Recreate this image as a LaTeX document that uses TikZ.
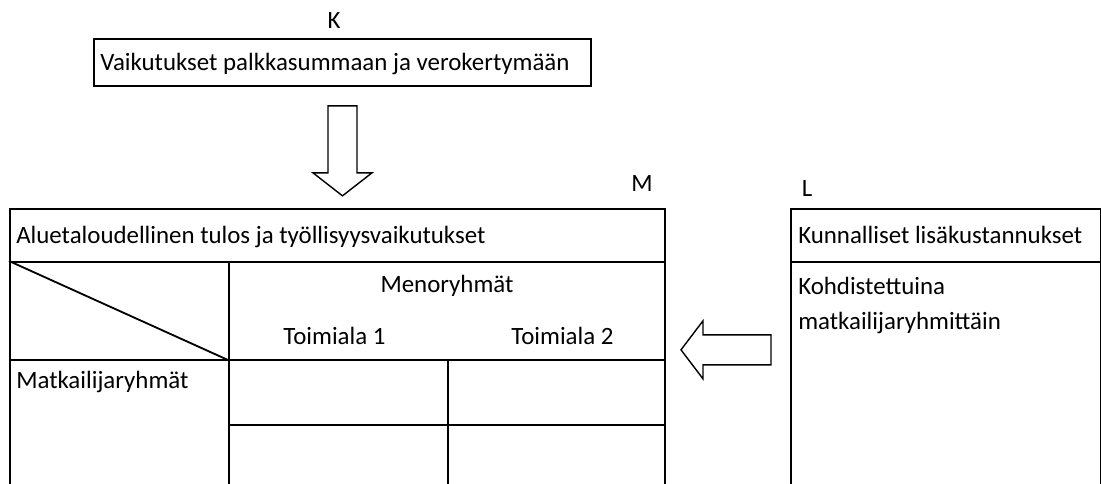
\documentclass[tikz,border=0pt]{standalone}
\usepackage{fontspec}
\setmainfont{Carlito}
\usetikzlibrary{calc}
\usetikzlibrary{positioning}

\begin{document}
\begin{tikzpicture}[x=0.025cm,y=-0.025cm,font=\fontsize{17.7}{21}\selectfont,
    cell/.style={rectangle,draw,line width=1.3pt,inner sep=0pt,anchor=north west},
    txt/.style={inner sep=0pt,anchor=base west},
    lbl/.style={inner sep=0pt,anchor=base},
    blockarrow/.style={draw,line width=1pt,line join=miter}]
      \useasboundingbox (0,0) rectangle (1101,484);
      \clip (0,0) rectangle (1101,484);
      \node[cell,minimum width=12.425cm,minimum height=1.175cm] (effects) at (93,38) {} ;
      \node[cell,minimum width=16.375cm,minimum height=1.325cm] (mainTitle) at (9,208) {} ;
      \node[cell,minimum width=5.475cm,minimum height=2.45cm] (corner) at (9,261) {} ;
      \node[cell,minimum width=10.9cm,minimum height=2.45cm] (header) at (228,261) {} ;
      \node[cell,minimum width=5.475cm,minimum height=3.525cm] (rowHead) at (9,359) {} ;
      \node[cell,minimum width=5.475cm,minimum height=1.625cm] (cellA) at (228,359) {} ;
      \node[cell,minimum width=5.425cm,minimum height=1.625cm] (cellB) at (447,359) {} ;
      \node[cell,minimum width=5.475cm,minimum height=1.9cm] (cellC) at (228,424) {} ;
      \node[cell,minimum width=5.425cm,minimum height=1.9cm] (cellD) at (447,424) {} ;
      \node[cell,minimum width=7.75cm,minimum height=1.325cm] (costTitle) at (790,208) {} ;
      \node[cell,minimum width=7.75cm,minimum height=5.975cm] (costBody) at (790,261) {} ;
      \draw [line width=1.3pt] (corner.north west) -- (corner.south east) ;
      \node[lbl] (kLabel) at ($(effects.north)+(-8.5,-9)$) {K} ;
      \node[lbl] (mLabel) at ($(mainTitle.north east)+(-24,-16)$) {M} ;
      \node[lbl] (lLabel) at ($(costTitle.north west)+(17,-11)$) {L} ;
      \node[txt] (effectsText) at ($(effects.west)+(7,8)$) {Vaikutukset palkkasummaan ja verokertymään} ;
      \node[txt] (mainText) at ($(mainTitle.west)+(7,8)$) {Aluetaloudellinen tulos ja työllisyysvaikutukset} ;
      \node[lbl] (spendText) at ($(header.north)+(0,32)$) {Menoryhmät} ;
      \node[lbl] (sectorOne) at ($(cellA.north)+(-4,-14)$) {Toimiala 1} ;
      \node[lbl] (sectorTwo) at ($(cellB.north)+(6,-14)$) {Toimiala 2} ;
      \node[txt] (groupText) at ($(rowHead.north west)+(7,30)$) {Matkailijaryhmät} ;
      \node[txt] (costText) at ($(costTitle.west)+(8,8)$) {Kunnalliset lisäkustannukset} ;
      \node[txt] (targetOne) at ($(costBody.north west)+(8,34)$) {Kohdistettuina} ;
      \node[txt] (targetTwo) at ($(targetOne.base west)+(0,35)$) {matkailijaryhmittäin} ;
      \coordinate (downTop) at ($(effects.south)+(0,19)$) ;
      \coordinate (leftTail) at ($(costTitle.south west)+(-19,87)$) ;
      \draw [blockarrow] (downTop) ++(-14.5,0) -- ++(0,67) -- ++(-15,0) -- ++(29.5,23) -- ++(29.5,-23) -- ++(-15,0) -- ++(0,-67) -- cycle ;
      \draw [blockarrow] (leftTail) ++(0,-15) -- ++(-68,0) -- ++(0,-14) -- ++(-22,29) -- ++(22,29) -- ++(0,-14) -- ++(68,0) -- cycle ;
    \end{tikzpicture}
\end{document}
